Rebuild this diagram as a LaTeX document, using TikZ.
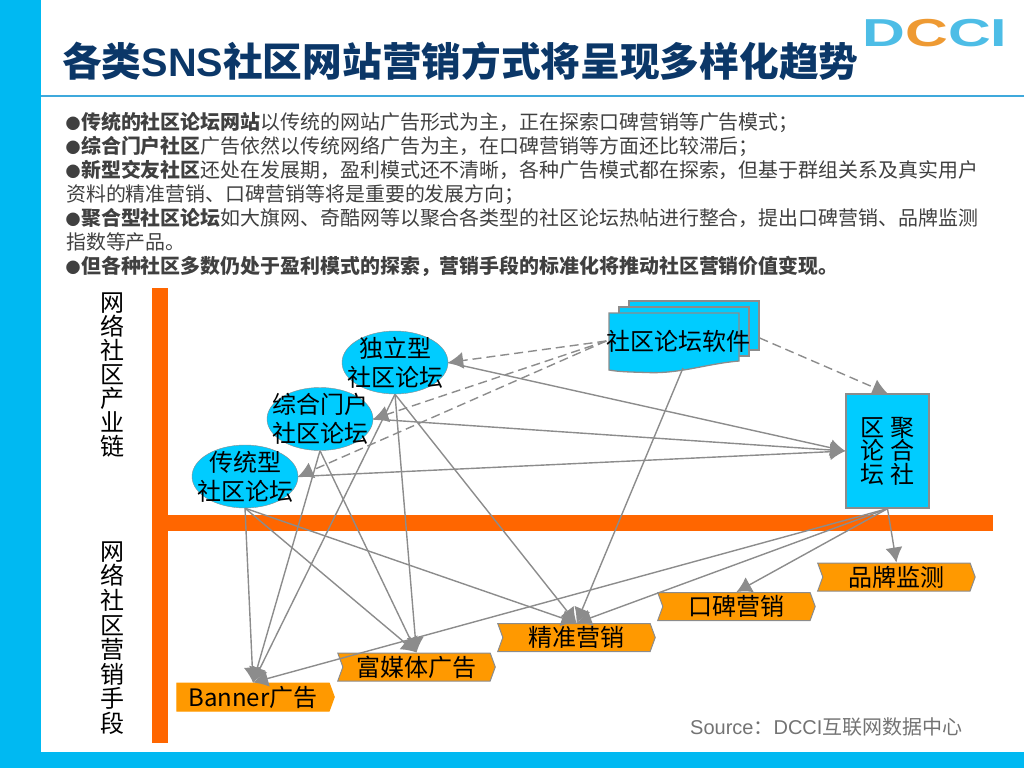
\documentclass[tikz,border=0pt]{standalone}
\usepackage{fontspec}
\usetikzlibrary{arrows.meta, positioning, shapes.geometric, shapes.symbols}
\setmainfont{Noto Sans CJK SC}
\newfontfamily\latinfont{Liberation Sans}
\definecolor{sidecyan}{HTML}{00B9F2}
\definecolor{rulecyan}{HTML}{3FA9DC}
\definecolor{titleblue}{HTML}{0B3768}
\definecolor{nodecyan}{HTML}{00CCFF}
\definecolor{barorange}{HTML}{FF6600}
\definecolor{tagorange}{HTML}{FF9900}
\definecolor{linegray}{HTML}{8C8C8C}
\definecolor{bodygray}{HTML}{404040}
\definecolor{logoblue}{HTML}{4DBDE6}
\definecolor{logoorange}{HTML}{EE9A33}
\newcommand{\bul}{\makebox[15pt][l]{\hspace{-0.5pt}\raisebox{0.5pt}{\fontsize{15}{15}\selectfont ●}}}
\newcommand{\dia}{\fontsize{24}{29}\selectfont}

\begin{document}
\begin{tikzpicture}[
    x=1pt, y=-1pt,
    node distance=0pt,
    oval/.style={draw=linegray, fill=nodecyan, ellipse, inner sep=-12pt, minimum width=106pt, minimum height=63pt, align=center, font=\dia},
    sheet/.style={draw=linegray, line width=1.3pt, fill=nodecyan, inner sep=0pt, minimum width=130pt, minimum height=49pt},
    tagbox/.style={draw=linegray, line width=1pt, fill=tagorange, signal, signal to=east, signal from=west, signal pointer angle=140, inner sep=0pt, minimum width=157.5pt, minimum height=28pt, font=\dia},
    flow/.style={draw=linegray, line width=1.4pt, -{Latex[length=15pt, width=17pt]}},
    flowdash/.style={flow, dash pattern=on 9pt off 5pt}
    ]
    \useasboundingbox (0,0) rectangle (1024,768);

    % Page frame
    \fill[sidecyan] (0,0) rectangle (41,768);
    \fill[sidecyan] (0,752) rectangle (1024,768);
    \draw[rulecyan, line width=2pt] (41,95.5) -- (1024,95.5);

    % Heading
    \node (title) [anchor=west, inner sep=0pt, text=titleblue, font=\fontsize{39.7}{40}\selectfont\bfseries] at (62,61) {各类{\latinfont SNS}社区网站营销方式将呈现多样化趋势};
    \node (logo) [inner sep=0pt, font=\fontsize{39}{39}\latinfont\bfseries] at (935,33.5) {\scalebox{1.52}[1]{\textcolor{logoblue}{D}\textcolor{logoorange}{C}\textcolor{logoblue}{CI}}};

    % Body text
    \node (body) [anchor=north west, inner sep=0pt, align=left, text=bodygray, font=\fontsize{19.93}{24}\selectfont] at (66,112) {%
      \bul\textbf{传统的社区论坛网站}以传统的网站广告形式为主，正在探索口碑营销等广告模式；\\
      \bul\textbf{综合门户社区}广告依然以传统网络广告为主，在口碑营销等方面还比较滞后；\\
      \bul\textbf{新型交友社区}还处在发展期，盈利模式还不清晰，各种广告模式都在探索，但基于群组关系及真实用户\\
      资料的精准营销、口碑营销等将是重要的发展方向；\\
      \bul\textbf{聚合型社区论坛}如大旗网、奇酷网等以聚合各类型的社区论坛热帖进行整合，提出口碑营销、品牌监测\\
      指数等产品。\\
      \bul\textbf{但各种社区多数仍处于盈利模式的探索，营销手段的标准化将推动社区营销价值变现。}};

    % Orange axes
    \fill[barorange] (152,288) rectangle (168,743);
    \fill[barorange] (168,515) rectangle (993,531);
    \node (chainlabel) [align=center, inner sep=0pt, font=\fontsize{24}{24}\selectfont] at (112,375) {网\\络\\社\\区\\产\\业\\链};
    \node (meanslabel) [align=center, inner sep=0pt, font=\fontsize{24}{24.6}\selectfont] at (112,638) {网\\络\\社\\区\\营\\销\\手\\段};

    % Forums
    \node (duli) [oval] at (395,362.5) {独立型\\社区论坛};
    \node (zonghe) [oval] at (320,419) {综合门户\\社区论坛};
    \node (chuantong) [oval] at (245,476.5) {传统型\\社区论坛};

    % Software stack
    \node (softback) [sheet] at (694,325.5) {};
    \node (softmid) [sheet] at (684,331.5) {};
    \filldraw[draw=linegray, line width=1.3pt, fill=nodecyan] (609,313) -- (739,313) -- (739,361)
      .. controls (705,364) and (680,374) .. (647,372.5) .. controls (632,372) and (620,372) .. (609,370) -- cycle;
    \node (soft) [inner sep=0pt, font=\dia] at (678.5,341) {社区论坛软件};
    \coordinate (softfoot) at (683,368);

    % Aggregator
    \node (juhe) [draw=linegray, line width=1.3pt, fill=nodecyan, inner sep=0pt, minimum width=83pt, minimum height=114pt, align=center, font=\fontsize{24}{23.5}\selectfont] at (887.5,451) {区\hspace{6pt}聚\\论\hspace{6pt}合\\坛\hspace{6pt}社};

    % Means
    \node (banner) [tagbox, signal from=nowhere, draw=tagorange] at (253,697) {Banner广告};
    \node (fumei) [tagbox, right=7.5pt of banner, yshift=30pt] {富媒体广告};
    \node (jingzhun) [tagbox, right=6.5pt of fumei, yshift=29.5pt] {精准营销};
    \node (koubei) [tagbox, right=6.5pt of jingzhun, yshift=31pt] {口碑营销};
    \node (pinpai) [tagbox, right=6.5pt of koubei, yshift=29.5pt] {品牌监测};

    % Edges
    \draw[flowdash] (soft.west) -- (duli.east);
    \draw[flowdash] (soft.west) -- (zonghe.east);
    \draw[flowdash] (soft.west) -- (chuantong.east);
    \draw[flowdash] ([yshift=-12.5pt]softback.east) -- (juhe.north);

    \draw[flow] (duli.east) -- (juhe.west);
    \draw[flow] (zonghe.east) -- (juhe.west);
    \draw[flow] (chuantong.east) -- (juhe.west);

    \draw[flow] (chuantong.south) -- (banner.north);
    \draw[flow] (zonghe.south) -- (banner.north);
    \draw[flow] (duli.south) -- (banner.north);
    \draw[flow] (chuantong.south) -- (fumei.north);
    \draw[flow] (zonghe.south) -- (fumei.north);
    \draw[flow] (duli.south) -- (fumei.north);
    \draw[flow] (chuantong.south) -- (jingzhun.north);
    \draw[flow] (duli.south) -- (jingzhun.north);
    \draw[flow] (softfoot) -- (jingzhun.north);

    \draw[flow] (juhe.south) -- (banner.north);
    \draw[flow] (juhe.south) -- (jingzhun.north);
    \draw[flow] (juhe.south) -- (koubei.north);
    \draw[flow] (juhe.south) -- (pinpai.north);

    % Source
    \node (source) [anchor=west, inner sep=0pt, text=black!55, font=\fontsize{20}{24}\selectfont] at (690,727) {{\latinfont Source}：{\latinfont DCCI}互联网数据中心};
\end{tikzpicture}
\end{document}
